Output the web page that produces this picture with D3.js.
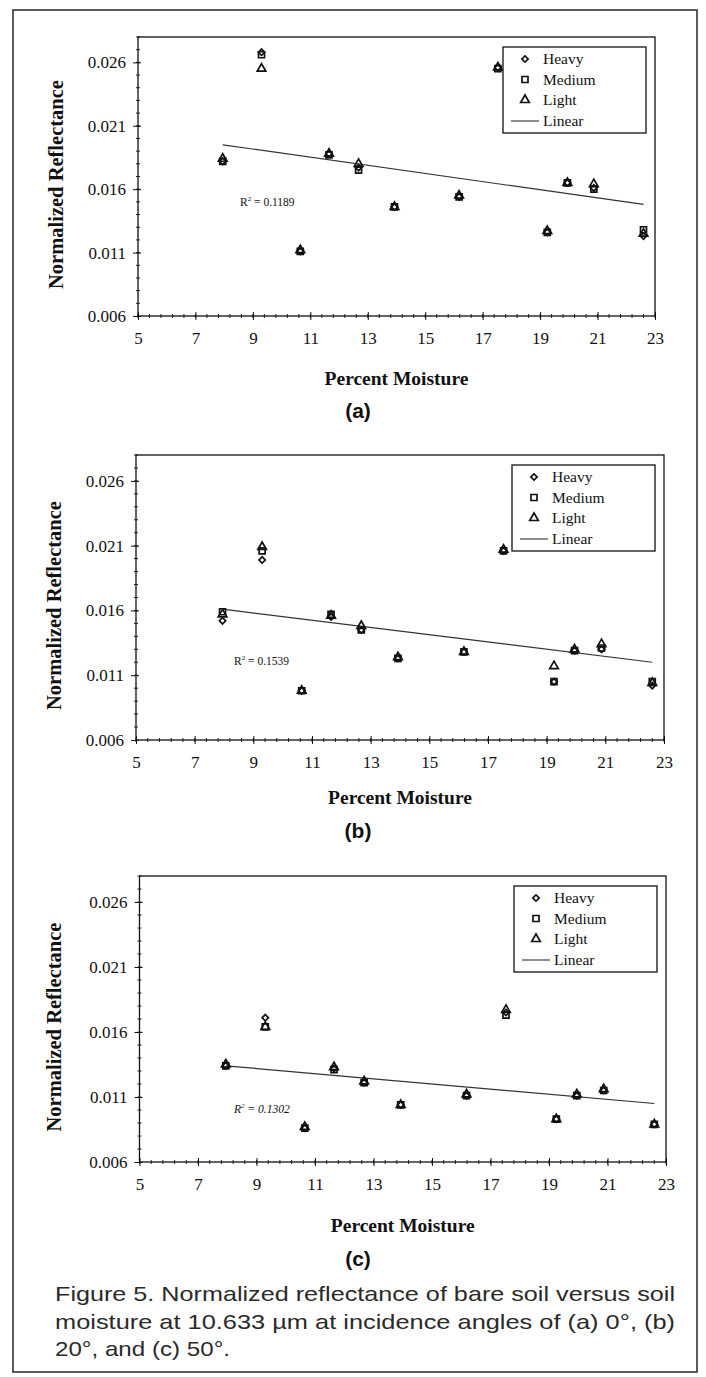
<!DOCTYPE html>
<html>
<head>
<meta charset="utf-8">
<script src="https://cdn.jsdelivr.net/npm/d3@7"></script>
<style>
  body { margin: 0; background: #fff; }
  svg { display: block; }
</style>
</head>
<body>
<div id="vis"></div>
<script>
// percent moisture of the 12 soil samples (same for all three panels)
var moisture = [7.95, 9.3, 10.65, 11.65, 12.68, 13.93, 16.18, 17.53, 19.25, 19.95, 20.87, 22.6]

// (a) incidence 0 deg
var heavyA  = [0.0182, 0.0268, 0.0111, 0.0188, 0.0177, 0.0146, 0.0154, 0.0256, 0.0126, 0.0165, 0.0161, 0.0123]
var mediumA = [0.0182, 0.0266, 0.0111, 0.0187, 0.0175, 0.0146, 0.0154, 0.0255, 0.0126, 0.0165, 0.0160, 0.0128]
var lightA  = [0.0184, 0.0255, 0.0112, 0.0188, 0.0180, 0.0146, 0.0155, 0.0256, 0.0127, 0.0165, 0.0164, 0.0125]
var trendA  = [0.0195, 0.0148]
var r2A = "0.1189"

// (b) incidence 20 deg
var heavyB  = [0.0152, 0.0199, 0.0098, 0.0155, 0.0145, 0.0123, 0.0128, 0.0206, 0.0105, 0.0129, 0.0130, 0.0102]
var mediumB = [0.0159, 0.0206, 0.0098, 0.0157, 0.0145, 0.0123, 0.0128, 0.0206, 0.0105, 0.0129, 0.0131, 0.0105]
var lightB  = [0.0157, 0.0209, 0.0098, 0.0156, 0.0148, 0.0124, 0.0128, 0.0207, 0.0117, 0.0130, 0.0134, 0.0104]
var trendB  = [0.0161, 0.0120]
var r2B = "0.1539"

// (c) incidence 50 deg
var heavyC  = [0.0134, 0.0171, 0.0086, 0.0132, 0.0121, 0.0104, 0.0111, 0.0175, 0.0093, 0.0111, 0.0115, 0.0089]
var mediumC = [0.0134, 0.0164, 0.0086, 0.0131, 0.0121, 0.0104, 0.0111, 0.0173, 0.0093, 0.0111, 0.0115, 0.0089]
var lightC  = [0.0135, 0.0164, 0.0087, 0.0133, 0.0122, 0.0104, 0.0112, 0.0177, 0.0093, 0.0112, 0.0116, 0.0089]
var trendC  = [0.0134, 0.0105]
var r2C = "0.1302"

var xTicks = [5, 7, 9, 11, 13, 15, 17, 19, 21, 23]
var yTicks = [0.006, 0.011, 0.016, 0.021, 0.026]
var seriesNames = ["Heavy", "Medium", "Light"]
var captionLines = [
  "Figure 5. Normalized reflectance of bare soil versus soil",
  "moisture at 10.633 \u00b5m at incidence angles of (a) 0\u00b0, (b)",
  "20\u00b0, and (c) 50\u00b0."
]

var width = 706
var height = 1377
var serif = "'Liberation Serif', 'Times New Roman', serif"
var sans = "'Liberation Sans', Arial, sans-serif"

var svg = d3.select('#vis').append('svg')
  .attr('width', width)
  .attr('height', height)

svg.append('rect').attr('width', width).attr('height', height).attr('fill', '#fff')

// outer figure frame
svg.append('rect')
  .attr('x', 13).attr('y', 10)
  .attr('width', 684).attr('height', 1362)
  .attr('fill', 'none').attr('stroke', '#333').attr('stroke-width', 1.6)

// heavy = diamond (square turned 45 deg), medium = square, light = triangle
var symbols = [d3.symbolSquare, d3.symbolSquare, d3.symbolTriangle]
var symSize = [20, 36, 32]
var symRot = [45, 0, 0]

var panels = [
  {l: 138, r: 655, t: 37, b: 316, titleX: 56, pmY: 385, labY: 418, label: "(a)",
   series: [heavyA, mediumA, lightA], trend: trendA, r2: r2A, r2px: 240, r2y: 0.0147, italic: false},
  {l: 136, r: 664, t: 455, b: 740, titleX: 54, pmY: 804, labY: 838, label: "(b)",
   series: [heavyB, mediumB, lightB], trend: trendB, r2: r2B, r2px: 234, r2y: 0.0118, italic: false},
  {l: 139.5, r: 666, t: 876, b: 1162, titleX: 54, pmY: 1232, labY: 1266, label: "(c)",
   series: [heavyC, mediumC, lightC], trend: trendC, r2: r2C, r2px: 234, r2y: 0.0098, italic: true}
]

function marker(sel, si){
  sel.attr('d', d3.symbol().type(symbols[si]).size(symSize[si]))
    .attr('fill', 'none').attr('stroke', '#111').attr('stroke-width', 1.7)
}

panels.forEach(function(p){
  var x = d3.scaleLinear().domain([5, 23]).range([p.l, p.r])
  var y = d3.scaleLinear().domain([0.006, 0.028]).range([p.b, p.t])
  var g = svg.append('g')

  // plot box
  g.append('rect')
    .attr('x', p.l).attr('y', p.t)
    .attr('width', p.r - p.l).attr('height', p.b - p.t)
    .attr('fill', 'none').attr('stroke', '#111').attr('stroke-width', 1.3)

  // y axis: major ticks with labels, minor every 0.001
  var yAxis = d3.axisLeft(y).tickValues(yTicks).tickFormat(d3.format('.3f')).tickSize(5).tickPadding(7)
  var ya = g.append('g').attr('transform', 'translate(' + p.l + ',0)').call(yAxis)
  ya.select('.domain').remove()
  ya.selectAll('line').attr('stroke', '#111').attr('x2', -5).attr('x1', 3)
  ya.selectAll('text').attr('font-family', serif).attr('font-size', 17).attr('fill', '#111')
  g.selectAll('.ymin').data(d3.range(7, 29).map(function(v){ return v / 1000 }))
    .enter().append('line')
    .attr('x1', p.l - 2).attr('x2', p.l + 2)
    .attr('y1', function(d){ return y(d) }).attr('y2', function(d){ return y(d) })
    .attr('stroke', '#111').attr('stroke-width', 0.9)

  // x axis
  var xAxis = d3.axisBottom(x).tickValues(xTicks).tickFormat(d3.format('d')).tickSize(4).tickPadding(12)
  var xa = g.append('g').attr('transform', 'translate(0,' + p.b + ')').call(xAxis)
  xa.select('.domain').remove()
  xa.selectAll('line').attr('stroke', '#111').attr('y1', -4)
  xa.selectAll('text').attr('font-family', serif).attr('font-size', 17).attr('fill', '#111')
  g.selectAll('.xmin').data(d3.range(0, 46).map(function(i){ return 5 + i * 0.4 }))
    .enter().append('line')
    .attr('x1', function(d){ return x(d) }).attr('x2', function(d){ return x(d) })
    .attr('y1', p.b - 2).attr('y2', p.b + 2)
    .attr('stroke', '#111').attr('stroke-width', 0.9)

  // axis titles
  g.append('text')
    .attr('transform', 'translate(' + (p.titleX + 7) + ',' + ((p.t + p.b) / 2 + 8) + ') rotate(-90)')
    .attr('text-anchor', 'middle')
    .attr('font-family', serif).attr('font-weight', 'bold').attr('font-size', 20.5)
    .attr('fill', '#111')
    .text('Normalized Reflectance')
  g.append('text')
    .attr('x', (p.l + p.r) / 2).attr('y', p.pmY)
    .attr('text-anchor', 'middle')
    .attr('font-family', serif).attr('font-weight', 'bold').attr('font-size', 19.5)
    .attr('fill', '#111')
    .text('Percent Moisture')
  g.append('text')
    .attr('x', 358).attr('y', p.labY)
    .attr('text-anchor', 'middle')
    .attr('font-family', sans).attr('font-weight', 'bold').attr('font-size', 21)
    .attr('fill', '#111')
    .text(p.label)

  // linear trend line
  g.append('line')
    .attr('x1', x(moisture[0])).attr('y1', y(p.trend[0]))
    .attr('x2', x(moisture[moisture.length - 1])).attr('y2', y(p.trend[1]))
    .attr('stroke', '#333').attr('stroke-width', 1.2)

  // R squared
  var r2 = g.append('text')
    .attr('x', p.r2px).attr('y', y(p.r2y))
    .attr('font-family', serif).attr('font-size', 11.5).attr('fill', '#111')
    .attr('font-style', p.italic ? 'italic' : 'normal')
  r2.append('tspan').text('R')
  r2.append('tspan').attr('dy', -5).attr('font-size', 7).text('2')
  r2.append('tspan').attr('dy', 5).text(' = ' + p.r2)

  // markers
  p.series.forEach(function(vals, si){
    g.selectAll('.pt' + si).data(vals).enter().append('path')
      .call(marker, si)
      .attr('transform', function(d, i){
        return 'translate(' + x(moisture[i]) + ',' + y(d) + ') rotate(' + symRot[si] + ')'
      })
  })

  // legend
  var lw = 143, lh = 86
  var lx = p.r - 9 - lw, ly = p.t + 10
  var lg = g.append('g').attr('transform', 'translate(' + lx + ',' + ly + ')')
  lg.append('rect').attr('width', lw).attr('height', lh)
    .attr('fill', '#fff').attr('stroke', '#222').attr('stroke-width', 1.4)
  seriesNames.forEach(function(name, si){
    var ry = 12 + si * 20.5
    lg.append('path')
      .call(marker, si)
      .attr('transform', 'translate(22,' + ry + ') rotate(' + symRot[si] + ')')
    lg.append('text').attr('x', 40).attr('y', ry + 5)
      .attr('font-family', serif).attr('font-size', 15.5).attr('fill', '#111')
      .text(name)
  })
  lg.append('line').attr('x1', 8).attr('x2', 36).attr('y1', 74).attr('y2', 74)
    .attr('stroke', '#333').attr('stroke-width', 1.1)
  lg.append('text').attr('x', 40).attr('y', 79)
    .attr('font-family', serif).attr('font-size', 15.5).attr('fill', '#111')
    .text('Linear')
})

// caption
var capWidths = [620, 620, 175]
svg.selectAll('.cap').data(captionLines).enter().append('text')
  .attr('x', 55)
  .attr('y', function(d, i){ return 1301 + i * 27.5 })
  .attr('font-family', sans).attr('font-size', 21).attr('fill', '#2a2a2a')
  .attr('textLength', function(d, i){ return capWidths[i] })
  .attr('lengthAdjust', 'spacingAndGlyphs')
  .text(function(d){ return d })
</script>
</body>
</html>
